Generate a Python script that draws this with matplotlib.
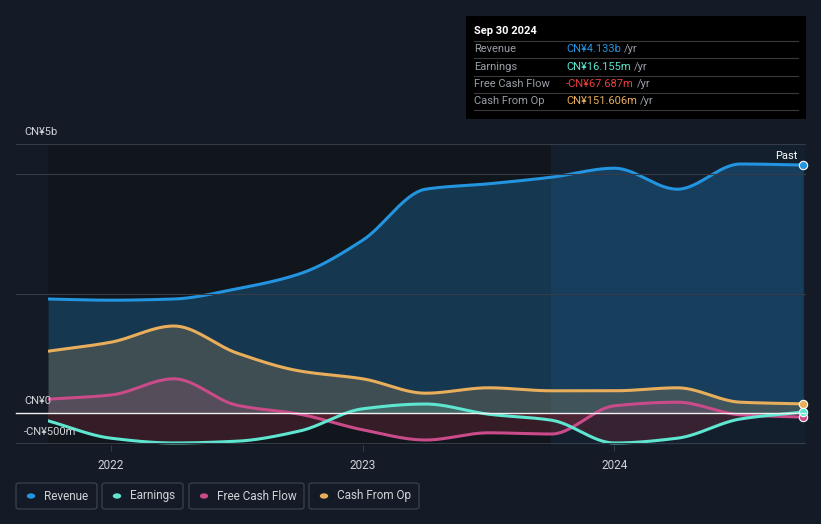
import numpy as np
import matplotlib.pyplot as plt
from matplotlib.patches import FancyBboxPatch, Rectangle, Circle
from matplotlib.lines import Line2D

plt.rcParams['font.family'] = ['Roboto', 'DejaVu Sans']

colors = {"bg": '#151b26',
"past_bg": '#11151c',
"revenue": '#2394df',
"earnings": '#5ee6d0',
"fcf": '#c94b8a',
"cfo": '#e8ae5b',
"grid": '#353b47',
"text": '#d0d3d8'}

# quarterly points, Sep 2021 .. Sep 2024 (values in CN¥ billions)
quarters = [2021.75, 2022.0, 2022.25, 2022.5, 2022.75, 2023.0, 2023.25,
            2023.5, 2023.75, 2024.0, 2024.25, 2024.5, 2024.75]
revenue = [1.90, 1.88, 1.90, 2.07, 2.32, 2.88, 3.73, 3.82, 3.93, 4.08, 3.73, 4.15, 4.133]
earnings = [-0.13, -0.42, -0.50, -0.47, -0.30, 0.07, 0.15, -0.02, -0.12, -0.50, -0.42, -0.10, 0.016]
fcf = [0.23, 0.30, 0.57, 0.13, -0.02, -0.28, -0.45, -0.33, -0.35, 0.12, 0.18, -0.03, -0.068]
cfo = [1.03, 1.18, 1.45, 1.00, 0.70, 0.57, 0.33, 0.42, 0.37, 0.37, 0.42, 0.18, 0.152]

year_ticks = [2022, 2023, 2024]
tooltip_rows = [("Revenue", "CN¥4.133b", colors["revenue"]),
                ("Earnings", "CN¥16.155m", colors["earnings"]),
                ("Free Cash Flow", "-CN¥67.687m", '#e8403f'),
                ("Cash From Op", "CN¥151.606m", colors["cfo"])]
legend_items = [("Revenue", colors["revenue"]), ("Earnings", colors["earnings"]),
                ("Free Cash Flow", colors["fcf"]), ("Cash From Op", colors["cfo"])]


def monotone(x, y, n=400):
    # monotone cubic curve through the points (like d3 curveMonotoneX)
    x = np.asarray(x, float)
    y = np.asarray(y, float)
    h = np.diff(x)
    d = np.diff(y) / h
    m = np.zeros_like(y)
    m[0] = d[0]
    m[-1] = d[-1]
    for i in range(1, len(y) - 1):
        if d[i - 1] * d[i] <= 0:
            m[i] = 0
        else:
            m[i] = 3 * (h[i - 1] + h[i]) / ((2 * h[i] + h[i - 1]) / d[i - 1] + (h[i] + 2 * h[i - 1]) / d[i])
    xs = np.linspace(x[0], x[-1], n)
    idx = np.clip(np.searchsorted(x, xs) - 1, 0, len(x) - 2)
    t = (xs - x[idx]) / h[idx]
    h00 = 2 * t**3 - 3 * t**2 + 1
    h10 = t**3 - 2 * t**2 + t
    h01 = -2 * t**3 + 3 * t**2
    h11 = t**3 - t**2
    ys = h00 * y[idx] + h10 * h[idx] * m[idx] + h01 * y[idx + 1] + h11 * h[idx] * m[idx + 1]
    return xs, ys


W, H = 821, 524
fig = plt.figure(figsize=(W / 100, H / 100), dpi=100)
fig.patch.set_facecolor(colors["bg"])

x0, x1 = 48, 805
ytop, ybot = 144, 445
ax = fig.add_axes([x0 / W, 1 - ybot / H, (x1 - x0) / W, (ybot - ytop) / H])
ax.set_facecolor(colors["bg"])
ax.set_xlim(2021.75, 2024.757)
ax.set_ylim(-(ybot - 413) / 60, (413 - ytop) / 60)
for s in ax.spines.values():
    s.set_visible(False)

# past region darker
ax.axvspan(2021.75, 2023.75, color=colors["past_bg"], zorder=0)
ax.axvspan(2023.75, 2024.757, color='#131f2d', zorder=0)

# gridlines extending to left edge
def hline(ypix, color, lw=0.8):
    fig.add_artist(Line2D([16 / W, x1 / W], [1 - ypix / H, 1 - ypix / H],
                          color=color, lw=lw, zorder=1))

for yp in [144, 174, 294, 443]:
    hline(yp, colors["grid"])

series = [(revenue, colors["revenue"], 0.27),
          (cfo, colors["cfo"], 0.2),
          (fcf, colors["fcf"], 0.16),
          (earnings, colors["earnings"], 0.16)]

for vals, c, a in series:
    xs, ys = monotone(quarters, vals)
    ax.fill_between(xs, ys, 0, where=ys >= 0, color=c, alpha=a, lw=0, zorder=2, interpolate=True)
    ax.fill_between(xs, ys, 0, where=ys < 0, color='#7a2a3a', alpha=0.35, lw=0, zorder=2, interpolate=True)

for vals, c, a in series:
    xs, ys = monotone(quarters, vals)
    ax.plot(xs, ys, color=c, lw=2.2, zorder=4, solid_capstyle='round')
    ax.plot(quarters[-1], vals[-1], 'o', ms=6, color=c, mec='white', mew=0.8, zorder=5, clip_on=False)

hline(413, '#f0f0f0', lw=1.0)

# axis texts
fig.text(24 / W, 1 - 132 / H, "CN¥5b", color=colors["text"], fontsize=8, va='center')
fig.text(24 / W, 1 - 401 / H, "CN¥0", color=colors["text"], fontsize=8, va='center')
fig.text(24 / W, 1 - 432 / H, "-CN¥500m", color=colors["text"], fontsize=8, va='center')
fig.text(797 / W, 1 - 156 / H, "Past", color='white', fontsize=8, va='center', ha='right')

ax.set_xticks(year_ticks)
ax.set_xticklabels([str(y) for y in year_ticks])
ax.set_yticks([])
ax.tick_params(axis='x', colors=colors["grid"], length=4, width=0.8, labelcolor=colors["text"],
               labelsize=8.5, pad=6)

# tooltip box
fig.add_artist(Rectangle((466 / W, 1 - 119 / H), 340 / W, 103 / H, transform=fig.transFigure,
                         facecolor='black', edgecolor='none', zorder=6))
fig.text(474 / W, 1 - 31 / H, "Sep 30 2024", color='white', fontsize=8, fontweight='bold',
         va='center', zorder=7)
for i, (name, val, c) in enumerate(tooltip_rows):
    yl = 41 + i * 17.3
    fig.add_artist(Line2D([474 / W, 798 / W], [1 - yl / H, 1 - yl / H], color='#3a3a3a', lw=0.8, zorder=7))
    yt = yl + 8.5
    fig.text(474 / W, 1 - yt / H, name, color='#9a9ea6', fontsize=8, va='center', zorder=7)
    t = fig.text(566 / W, 1 - yt / H, val, color=c, fontsize=8, va='center', zorder=7)
    fig.canvas.draw()
    bb = t.get_window_extent()
    fig.text(bb.x1 / W + 3 / W, 1 - yt / H, "/yr", color='#9a9ea6', fontsize=8, va='center', zorder=7)
fig.add_artist(Line2D([474 / W, 798 / W], [1 - 110 / H, 1 - 110 / H], color='#3a3a3a', lw=0.8, zorder=7))

# legend boxes
boxes = [(16, 97), (102, 183), (189, 304), (309, 419)]
for (bx0, bx1), (name, c) in zip(boxes, legend_items):
    fig.add_artist(FancyBboxPatch((bx0 / W, 1 - 509 / H), (bx1 - bx0) / W, 26 / H,
                                  boxstyle="round,pad=0,rounding_size=0.004", transform=fig.transFigure,
                                  facecolor='none', edgecolor='#3a4150', lw=0.9))
    fig.add_artist(Circle(((bx0 + 15) / W, 1 - 496 / H), 4.2 / W, transform=fig.transFigure,
                          facecolor=c, edgecolor='none'))
    fig.text((bx0 + 28) / W, 1 - 496 / H, name, color=colors["text"], fontsize=8.5, va='center')

fig.savefig("out.png", dpi=100, facecolor=fig.get_facecolor())
